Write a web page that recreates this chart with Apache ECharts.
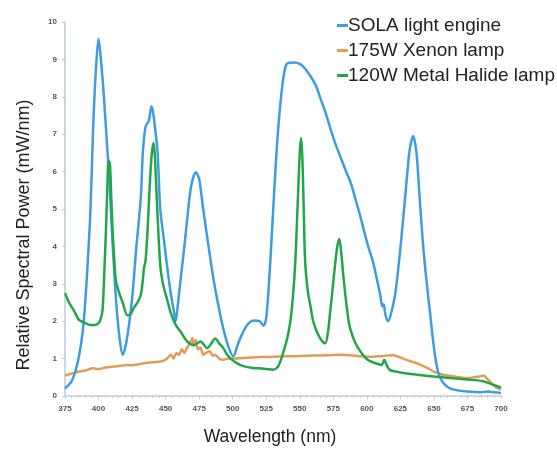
<!DOCTYPE html>
<html><head><meta charset="utf-8">
<script src="https://cdn.jsdelivr.net/npm/echarts@6/dist/echarts.min.js"></script>
<style>html,body{margin:0;padding:0;background:#fff}#c{width:557px;height:451px}</style>
</head><body><div id="c"></div>
<script>
const seriesNames = ['SOLA light engine', '175W Xenon lamp', '120W Metal Halide lamp'];
const xTicks = [375,400,425,450,475,500,525,550,575,600,625,650,675,700];

const solaNm = [375,380,384,387,389,391.5,394,396,398,400,402,404,406,408,410,413,415.5,418,421,425,428,431.5,433,435,436.5,437.5,439.5,441,444,446,449,451,454,456,457.5,459,461,464,466,469,472.5,475,478,482,486,490,493,497,500.5,504,508,512,516,520,523,525,527,529,531,533,535,537,539,541,546,550,554,558,562,565,569,573,577,580,584,588,592,595,598,601,604.5,607,610,611.5,612.5,614,616,618,621,624,627,630,632,634.5,637,639,642,645,647,650,653,656,660,665,675,685,690,695,700];
const solaVal = [0.2,0.4,0.83,1.4,2.0,3.3,5.0,7.2,8.7,9.55,8.9,8.0,6.9,5.8,4.4,2.6,1.6,1.1,1.5,2.6,3.9,5.3,6.5,7.2,7.3,7.35,7.75,7.5,6.5,5.0,4.1,3.5,2.7,2.3,2.0,2.4,3.06,4.0,4.7,5.6,5.98,5.8,5.0,4.0,3.06,2.3,1.8,1.3,1.06,1.4,1.73,1.95,2.02,2.0,1.88,2.1,3.0,4.2,5.5,6.7,7.6,8.3,8.75,8.9,8.92,8.88,8.75,8.55,8.3,8.0,7.6,7.13,6.7,6.42,6.05,5.7,5.2,4.82,4.4,4.0,3.6,3.2,2.7,2.4,2.45,2.15,2.0,2.2,2.7,3.6,4.7,5.9,6.6,6.95,6.5,5.5,4.0,2.9,2.26,1.3,0.66,0.4,0.25,0.17,0.12,0.1,0.12,0.1,0.08];

const xenonNm = [375,380,385,390,396,400,405,410,415,421,425,430,435,440,446,450,454,456,458,460,462,464,466,468,470,471,472.5,474,476,478,480,483,485,487,490,493,497,500,510,520,530,540,550,560,570,580,590,595,600,605,610,615,620,625,630,637,645,650,657,665,674,680,684,687,690,694,697,700];
const xenonVal = [0.55,0.6,0.65,0.68,0.74,0.72,0.76,0.78,0.8,0.83,0.82,0.85,0.88,0.9,0.92,0.97,1.1,1.0,1.15,1.1,1.25,1.15,1.3,1.4,1.55,1.35,1.5,1.25,1.3,1.1,1.15,1.2,1.08,1.1,1.0,0.97,1.0,1.0,1.02,1.04,1.05,1.06,1.07,1.08,1.09,1.1,1.08,1.06,1.05,1.05,1.06,1.08,1.09,1.03,0.96,0.88,0.75,0.65,0.57,0.52,0.48,0.5,0.52,0.55,0.45,0.3,0.22,0.17];

const halideNm = [375,378,382,385,387,390,394,397,400,401.5,403,404.5,405.5,406.5,407.5,408.5,409.5,410.5,412,413,415,418,421.5,424,426,429,431.5,433,434,435,436.5,438,439.5,441,442,443,444,446,448,451,454,457.5,461,466,471,476,481,484,487,490,493,496,498.5,503,508,515,520,525,530,534,538,541,543,545,546.7,548.5,550,551,552,553,554,556,558,560,563,566,569,571,572.5,574,576,578,579.5,581,582.5,584,586,587.6,591,595,599,602.5,607,611,613,614.5,617,625,637,650,662,675,686,692,699,700];
const halideVal = [2.75,2.5,2.26,2.05,2.0,1.95,1.9,1.9,1.95,2.05,2.3,3.5,4.4,5.5,6.3,6.2,5.3,4.4,3.5,3.06,2.8,2.5,2.16,2.2,2.34,2.5,2.7,3.1,3.45,3.6,4.4,5.5,6.4,6.77,6.4,5.6,4.82,3.5,3.0,2.6,2.2,1.9,1.73,1.46,1.36,1.46,1.28,1.4,1.54,1.4,1.28,1.1,1.0,0.88,0.8,0.75,0.74,0.72,0.7,0.8,1.2,1.6,2.0,2.7,3.6,5.2,6.5,6.9,6.3,4.9,3.6,2.8,2.4,2.0,1.7,1.5,1.41,1.7,2.2,2.7,3.4,4.0,4.2,3.8,3.2,2.7,2.1,1.8,1.45,1.2,1.02,0.93,0.87,0.83,0.97,0.85,0.7,0.63,0.57,0.52,0.48,0.44,0.4,0.33,0.24,0.23];

const zip = (a, b) => a.map((v, i) => [v, b[i]]);
const colors = ['#3d9de0', '#e39c55', '#22a64a'];

const chart = echarts.init(document.getElementById('c'));
chart.setOption({
  animation: false,
  color: colors,
  grid: {left: 65, right: 56, top: 22, bottom: 52},
  legend: {
    orient: 'vertical', left: 332, top: 11, itemGap: 6,
    itemWidth: 11, itemHeight: 3, icon: 'rect',
    textStyle: {fontFamily: 'Liberation Sans', fontSize: 19, color: '#222', padding: [0,0,0,-5]},
    data: seriesNames
  },
  xAxis: {
    type: 'value', min: 375, max: 700, interval: 25,
    name: 'Wavelength (nm)', nameLocation: 'middle', nameGap: 32,
    nameTextStyle: {fontFamily: 'Liberation Sans', fontSize: 17.5, color: '#222', padding: [0,26,0,0]},
    axisLine: {lineStyle: {color: '#bccbdc', width: 1.5}},
    axisTick: {show: true, length: 3, lineStyle: {color: '#bccbdc'}},
    minorTick: {show: true, splitNumber: 5, length: 2, lineStyle: {color: '#bccbdc'}},
    axisLabel: {fontFamily: 'Liberation Sans', fontSize: 8, color: '#555', fontWeight: 'bold', margin: 9,
      formatter: v => xTicks.includes(v) ? String(v) : ''},
    splitLine: {show: false}
  },
  yAxis: {
    type: 'value', min: 0, max: 10, interval: 1,
    name: 'Relative Spectral Power (mW/nm)', nameLocation: 'middle', nameGap: 32, nameRotate: 90,
    nameTextStyle: {fontFamily: 'Liberation Sans', fontSize: 18, color: '#222', padding: [0,52,0,0]},
    axisLine: {show: true, lineStyle: {color: '#bccbdc', width: 1.5}},
    axisTick: {show: true, length: 3, lineStyle: {color: '#bccbdc'}},
    axisLabel: {fontFamily: 'Liberation Sans', fontSize: 8, color: '#555', fontWeight: 'bold', margin: 8},
    splitLine: {show: false}
  },
  series: [
    {name: seriesNames[0], type: 'line', data: zip(solaNm, solaVal), showSymbol: false, smooth: 0.3, lineStyle: {width: 2.5}, z: 3},
    {name: seriesNames[1], type: 'line', data: zip(xenonNm, xenonVal), showSymbol: false, smooth: 0.2, lineStyle: {width: 2.5}, z: 2},
    {name: seriesNames[2], type: 'line', data: zip(halideNm, halideVal), showSymbol: false, smooth: 0.3, lineStyle: {width: 2.5}, z: 4}
  ]
});
</script></body></html>
